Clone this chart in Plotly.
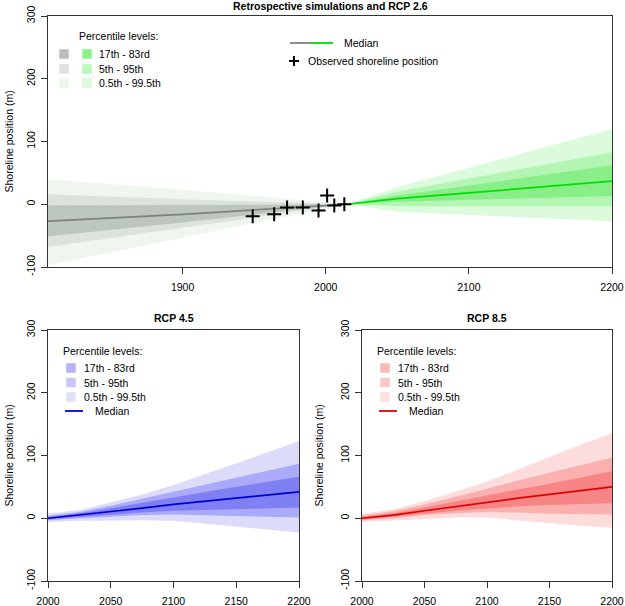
import plotly.graph_objects as go

# ---------------- Data ----------------
# Retrospective (historical) simulation, grey
hist_years = [1806, 1900, 2015]
hist_median = [-27, -16, 0]
hist_p17 = [-51, -29, 0]
hist_p83 = [-2, -1, 0]
hist_p5 = [-68, -38, 0]
hist_p95 = [16, 8, 0]
hist_p05 = [-97, -53, 0]
hist_p995 = [40, 23, 0]

# Observed shoreline positions
obs_years = [1949, 1964, 1973, 1984, 1995, 2001, 2006, 2013]
obs_pos = [-19, -16, -5, -5, -10, 14, -2, 0]

# RCP 2.6 projection (green)
rcp26_years = [2015, 2050, 2100, 2150, 2200]
rcp26_median = [0, 9, 18, 28, 37]
rcp26_p17 = [0, 4, 7, 10, 13]
rcp26_p83 = [0, 14, 30, 46, 62]
rcp26_p5 = [0, -3, -3, -3, -3]
rcp26_p95 = [0, 20, 41, 62, 83]
rcp26_p05 = [0, -12, -17, -22, -27]
rcp26_p995 = [0, 27, 58, 89, 120]

# RCP 4.5 projection (blue)
rcp45_years = [2000, 2025, 2050, 2075, 2100, 2125, 2150, 2175, 2200]
rcp45_median = [0, 5, 11, 16, 22, 27, 32, 37, 42]
rcp45_p17 = [-2, 2, 6, 9, 12, 14, 15, 16, 17]
rcp45_p83 = [2, 8, 16, 25, 34, 42, 50, 58, 66]
rcp45_p5 = [-3, 0, 3, 5, 6, 5, 4, 2, 1]
rcp45_p95 = [4, 10, 20, 31, 43, 54, 65, 76, 87]
rcp45_p05 = [-6, -4, -3, -3, -4, -8, -13, -18, -23]
rcp45_p995 = [7, 13, 25, 38, 53, 70, 87, 105, 123]

# RCP 8.5 projection (red)
rcp85_years = [2000, 2025, 2050, 2075, 2100, 2125, 2150, 2175, 2200]
rcp85_median = [0, 5, 12, 19, 26, 32, 38, 44, 50]
rcp85_p17 = [-2, 2, 7, 12, 16, 19, 21, 23, 24]
rcp85_p83 = [2, 8, 17, 27, 37, 46, 55, 65, 75]
rcp85_p5 = [-3, 0, 5, 8, 10, 9, 7, 6, 6]
rcp85_p95 = [4, 11, 22, 34, 47, 60, 72, 85, 97]
rcp85_p05 = [-6, -4, -1, 1, 1, -3, -8, -12, -15]
rcp85_p995 = [7, 14, 27, 42, 58, 78, 98, 117, 136]

top_xticks = [1900, 2000, 2100, 2200]
bottom_xticks = [2000, 2050, 2100, 2150, 2200]
yticks = [-100, 0, 100, 200, 300]
ytick_labels = ["-100", "0", "100", "200", "300"]
band_labels = ["17th - 83rd", "5th - 95th", "0.5th - 99.5th"]

# ---------------- Styles ----------------
W, H = 625, 606
FONT = "Liberation Sans, Arial, sans-serif"
FS = 10.5

PAL = {
    "grey": dict(light="#eef6ee", mid="#dbe3db", dark="#bcc6bc", line="#7f7f7f",
                 leg=["#b9c0b9", "#dce2dc", "#eef6ee"]),
    "green": dict(light="#dcfadc", mid="#b4f5b4", dark="#88ee88", line="#00dd00",
                  leg=["#8cf08c", "#b9f8b9", "#d9fad9"]),
    "blue": dict(light="#dcdcfa", mid="#aaaaf8", dark="#8080f5", line="#0000cc",
                 leg=["#b4b4f5", "#c8c8f8", "#e0e0fa"]),
    "red": dict(light="#fcdcdc", mid="#fbb0b0", dark="#f88585", line="#dd0000",
                leg=["#f8b8b8", "#fac8c8", "#fce0e0"]),
}

fig = go.Figure()


def add_fan(years, med, lo17, hi83, lo5, hi95, lo05, hi995, pal, xa, ya):
    for lo, hi, col in [(lo05, hi995, pal["light"]), (lo5, hi95, pal["mid"]), (lo17, hi83, pal["dark"])]:
        fig.add_trace(go.Scatter(
            x=list(years) + list(years)[::-1], y=list(hi) + list(lo)[::-1],
            fill="toself", fillcolor=col, mode="lines", line=dict(width=0, color=col),
            hoverinfo="skip", showlegend=False, xaxis=xa, yaxis=ya))
    fig.add_trace(go.Scatter(x=years, y=med, mode="lines", line=dict(width=1.7, color=pal["line"]),
                             showlegend=False, xaxis=xa, yaxis=ya))


add_fan(hist_years, hist_median, hist_p17, hist_p83, hist_p5, hist_p95, hist_p05, hist_p995,
        PAL["grey"], "x", "y")
add_fan(rcp26_years, rcp26_median, rcp26_p17, rcp26_p83, rcp26_p5, rcp26_p95, rcp26_p05, rcp26_p995,
        PAL["green"], "x", "y")
fig.add_trace(go.Scatter(x=obs_years, y=obs_pos, mode="markers",
                         marker=dict(symbol="cross-thin", size=10, line=dict(width=2, color="black")),
                         showlegend=False, xaxis="x", yaxis="y"))
add_fan(rcp45_years, rcp45_median, rcp45_p17, rcp45_p83, rcp45_p5, rcp45_p95, rcp45_p05, rcp45_p995,
        PAL["blue"], "x2", "y2")
add_fan(rcp85_years, rcp85_median, rcp85_p17, rcp85_p83, rcp85_p5, rcp85_p95, rcp85_p05, rcp85_p995,
        PAL["red"], "x3", "y3")


def px(x):
    return x / W


def py(y):
    return 1 - y / H


axis_common = dict(showline=True, mirror=True, linecolor="#333333", linewidth=1,
                   ticks="outside", ticklen=6, tickcolor="#333333", showgrid=False,
                   zeroline=False, automargin=False,
                   tickfont=dict(family=FONT, size=FS, color="black"))
yaxis_common = dict(range=[-100, 300], tickvals=yticks, ticktext=ytick_labels,
                    tickangle=-90, ticklabelstandoff=2, **axis_common)

fig.update_layout(
    width=W, height=H, margin=dict(l=0, r=0, t=0, b=0, autoexpand=False),
    paper_bgcolor="white", plot_bgcolor="white", showlegend=False,
    font=dict(family=FONT, size=FS, color="black"),
    xaxis=dict(domain=[px(48), px(612)], range=[1806, 2200], tickvals=top_xticks,
               anchor="y", ticklabelstandoff=4, **axis_common),
    yaxis=dict(domain=[py(267), py(16)], anchor="x", **yaxis_common),
    xaxis2=dict(domain=[px(48), px(299)], range=[2000, 2200], tickvals=bottom_xticks,
                anchor="y2", ticklabelstandoff=4, **axis_common),
    yaxis2=dict(domain=[py(581), py(330)], anchor="x2", **yaxis_common),
    xaxis3=dict(domain=[px(362), px(612)], range=[2000, 2200], tickvals=bottom_xticks,
                anchor="y3", ticklabelstandoff=4, **axis_common),
    yaxis3=dict(domain=[py(581), py(330)], anchor="x3", **yaxis_common),
)

ann = []
shapes = []


def text(x, y, s, anchor="left", bold=False, angle=0, size=FS):
    ann.append(dict(x=px(x), y=py(y), xref="paper", yref="paper", text=("<b>%s</b>" % s) if bold else s,
                    showarrow=False, xanchor=anchor, yanchor="middle", textangle=angle,
                    font=dict(family=FONT, size=size, color="black")))


def square(cx, cy, col, s=9.5):
    shapes.append(dict(type="rect", xref="paper", yref="paper", x0=px(cx - s / 2), x1=px(cx + s / 2),
                       y0=py(cy + s / 2), y1=py(cy - s / 2), fillcolor=col, line=dict(width=0)))


def hline(x0, x1, y, col, w=1.8):
    shapes.append(dict(type="line", xref="paper", yref="paper", x0=px(x0), x1=px(x1), y0=py(y), y1=py(y),
                       line=dict(color=col, width=w)))


# Titles
text(330, 6, "Retrospective simulations and RCP 2.6", anchor="center", bold=True)
text(173.5, 318, "RCP 4.5", anchor="center", bold=True)
text(487, 318, "RCP 8.5", anchor="center", bold=True)

# Y axis titles
text(8, 141.5, "Shoreline position (m)", anchor="center", angle=-90)
text(8, 455.5, "Shoreline position (m)", anchor="center", angle=-90)
text(318, 455.5, "Shoreline position (m)", anchor="center", angle=-90)

# Top legend
text(77, 36, "Percentile levels:")
rows = [54, 69, 83]
for i, r in enumerate(rows):
    square(64, r, PAL["grey"]["leg"][i])
    square(87, r, PAL["green"]["leg"][i])
    text(97, r, band_labels[i])
hline(290, 311, 43, PAL["grey"]["line"])
hline(311, 333, 43, PAL["green"]["line"])
text(342, 43, "Median")
shapes.append(dict(type="line", xref="paper", yref="paper", x0=px(289), x1=px(299), y0=py(61), y1=py(61),
                   line=dict(color="black", width=2)))
shapes.append(dict(type="line", xref="paper", yref="paper", x0=px(294), x1=px(294), y0=py(56), y1=py(66),
                   line=dict(color="black", width=2)))
text(306, 61, "Observed shoreline position")

# Bottom legends
for off, key in [(0, "blue"), (314, "red")]:
    text(61 + off, 351, "Percentile levels:")
    for i, r in enumerate([368, 382.5, 397]):
        square(71 + off, r, PAL[key]["leg"][i])
        text(82 + off, r, band_labels[i])
    hline(65 + off, 83 + off, 411, PAL[key]["line"])
    text(92.5 + off, 411, "Median")

fig.update_layout(annotations=ann, shapes=shapes)
fig.write_html("out.html", config={"displayModeBar": False},
               post_script="document.body.style.margin='0';document.body.style.padding='0';")
